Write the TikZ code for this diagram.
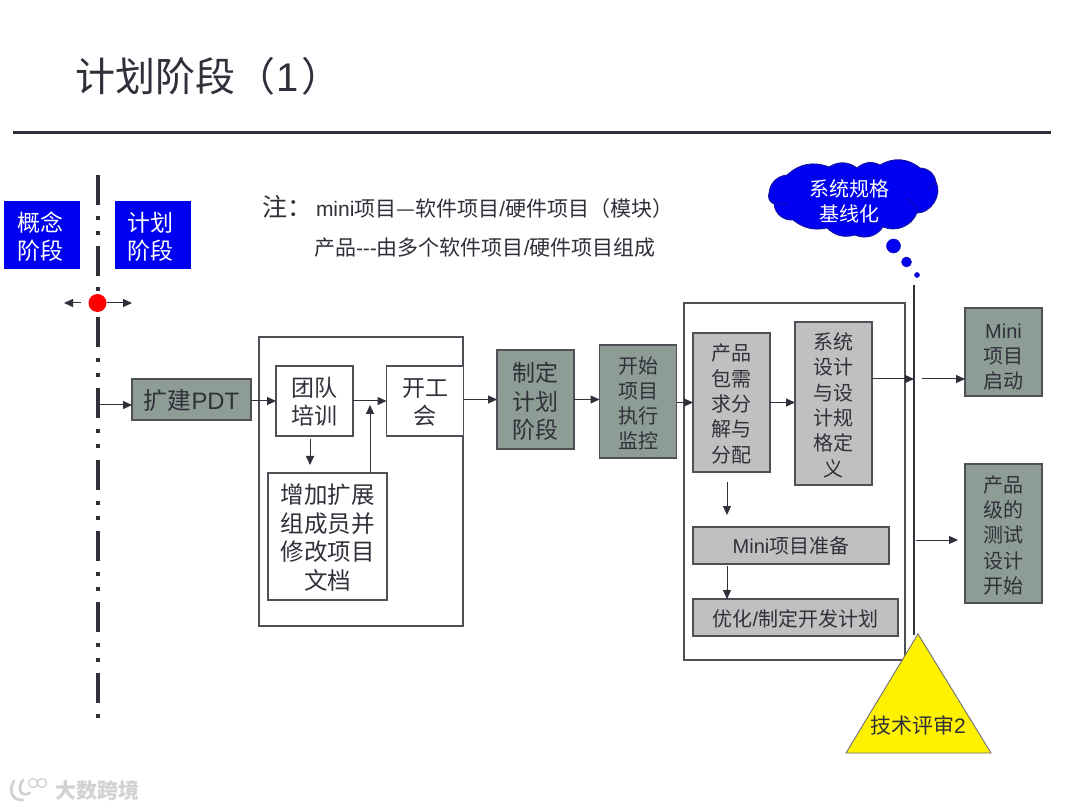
\documentclass[tikz,border=0pt]{standalone}
\usepackage{fontspec}
\setmainfont{Noto Sans CJK SC}
\newfontfamily\latfont{Liberation Sans}
\newcommand{\lat}[1]{{\latfont #1}}
\newcommand{\fs}[2]{\fontsize{#1pt}{#2pt}\selectfont}
\newcommand{\nd}[1]{\rule{0pt}{\dimexpr.88em+#1pt*2\relax}}
\usetikzlibrary{arrows.meta,calc}
\definecolor{ink}{HTML}{30303A}
\definecolor{sage}{HTML}{8D9C94}
\definecolor{silver}{HTML}{C0C0C0}
\definecolor{pure}{HTML}{0000F0}
\definecolor{wm}{HTML}{D2D2D2}
\tikzset{
  every node/.style={inner sep=0pt,outer sep=0pt,align=center,text=ink},
  box/.style={draw=ink!85,line width=1.1pt,minimum width=#1},
  boxh/.style={minimum height=#1},
  sagebox/.style={box=77pt,fill=sage,line width=1.3pt},
  greybox/.style={box=77pt,fill=silver,line width=1.3pt},
  whitebox/.style={box=77pt,fill=white},
  bluebox/.style={fill=pure,minimum width=76pt,minimum height=68pt,text=white,font=\fs{23}{28}},
  link/.style={draw=ink,line width=1pt,-{Triangle[length=9pt,width=8pt]}},
  plain/.style={draw=ink,line width=1.1pt},
}
\begin{document}
\begin{tikzpicture}[x=1pt,y=-1pt]
\useasboundingbox (0,0) rectangle (1080,810);
\fill[white] (0,0) rectangle (1080,810);
% title
\node[anchor=west,font=\fs{40}{46}] (title) at (75,76) {计划阶段（\kern2pt\lat{1}\kern2pt）};
\coordinate (ruleL) at (13,132.5);
\coordinate (ruleR) at (1051,132.5);
\draw[ink,line width=2.8pt] (ruleL) -- (ruleR);
% phase axis
\coordinate (axisTop) at (98,175);
\coordinate (axisBot) at (98,719);
\draw[ink,line width=3.6pt,dash pattern=on 30pt off 11pt on 4pt off 11pt on 4pt off 11.14pt] (axisTop) -- (axisBot);
\node[bluebox] (concept) at (42,235) {\nd{1.5}概念\kern4pt\\阶段\kern4pt};
\node[bluebox] (plan) at (153,235) {\nd{1.5}计划\kern6pt\\阶段\kern6pt};
\node[circle,fill=red,minimum size=18pt] (dot) at (97.5,303) {};
\coordinate (dotL) at (81,303);
\coordinate (dotLe) at (64,303);
\coordinate (dotRe) at (132,303);
\draw[link] (dotL) -- (dotLe);
\draw[link] (dot.east) -- (dotRe);
% notes
\node[anchor=west,font=\fs{25}{28}] (noteA) at (262,207) {注：};
\node[anchor=west,font=\fs{21}{24}] (noteB) at (316,209) {\lat{mini}项目—软件项目\lat{/}硬件项目（模块）};
\node[anchor=west,font=\fs{21}{24}] (noteC) at (314,248) {产品\lat{---}由多个软件项目\lat{/}硬件项目组成};
% group boxes
\draw[ink!85,line width=1.3pt,fill=white] (259,337) rectangle (463,626);
\draw[ink!85,line width=1.3pt,fill=white] (684,303) rectangle (905,660);
% nodes left
\node[sagebox,box=119pt,boxh=41pt,font=\fs{23.8}{28}] (pdt) at (191.5,399.5) {\nd{1}扩建\lat{PDT}};
\node[whitebox,boxh=70pt,font=\fs{23}{28}] (team) at (314.5,401) {\nd{0.5}团队\\培训};
\node[whitebox,boxh=70pt,font=\fs{23}{28}] (kick) at (425,401) {\nd{0.5}开工\\会};
\node[whitebox,box=119pt,boxh=127pt,font=\fs{23.5}{28.6}] (extend) at (327.5,536.5) {\nd{0.5}增加扩展\\组成员并\\修改项目\\文档};
\node[sagebox,boxh=99pt,font=\fs{23}{28.5}] (make) at (535.5,399.5) {\nd{1.5}制定\\计划\\阶段};
\node[sagebox,boxh=113pt,font=\fs{20}{25}] (monitor) at (638,401.5) {\nd{1}开始\\项目\\执行\\监控};
% inner right
\node[greybox,boxh=139pt,font=\fs{20}{25.4}] (req) at (731.5,402.5) {\nd{1}产品\\包需\\求分\\解与\\分配};
\node[greybox,boxh=163pt,font=\fs{20}{25.4}] (sys) at (833.5,403.5) {\nd{1.2}系统\\设计\\与设\\计规\\格定\\义};
\node[greybox,box=196pt,boxh=37pt,font=\fs{20}{24}] (mini) at (791,545.5) {\lat{Mini}项目准备};
\node[greybox,box=205pt,boxh=37pt,font=\fs{20}{24}] (opt) at (795.5,617.5) {\nd{1}优化\lat{/}制定开发计划};
% gate line
\coordinate (gateTop) at (914,285);
\coordinate (gateBot) at (914,635);
\draw[plain] (gateTop) -- (gateBot);
% outcomes
\node[sagebox,boxh=88pt,font=\fs{20}{25}] (start) at (1003.5,352) {\nd{3.5}\lat{Mini}\\项目\\启动};
\node[sagebox,boxh=139pt,font=\fs{20}{25.4}] (test) at (1003.5,533.5) {\nd{1.5}产品\\级的\\测试\\设计\\开始};
% triangle
\coordinate (triTop) at (918,634);
\coordinate (triL) at (846,753);
\coordinate (triR) at (991,753);
\draw[ink!70,line width=.9pt,fill=yellow] (triTop) -- (triR) -- (triL) -- cycle;
\node[font=\fs{21}{24}] (review) at (918,725) {技术评审\lat{2}};
% cloud
\coordinate (c1) at (769,193);
\draw[ink!50!pure,line width=.8pt,fill=pure]
  (c1) to[bend left=40] (787,175)
  to[bend left=32] (829,167)
  to[bend left=35] (857,168)
  to[bend left=35] (880,165)
  to[bend left=35] (920,168)
  to[bend left=40] (936,182)
  to[bend left=60] (917,213)
  to[bend left=45] (883,227)
  to[bend left=40] (855,235)
  to[bend left=30] (827,228)
  to[bend left=25] (793,220)
  to[bend left=45] (774,204)
  to[bend left=45] cycle;
\draw[ink!40!pure,line width=.7pt]
  (774,204) to[bend left=12] (789,205)
  (905,198) to[bend left=30] (917,213)
  (929,189) to[bend left=25] (936,182);
\node[text=white,font=\fs{20}{25}] (cloudtext) at (849,201) {系统规格\\基线化};
\node[circle,fill=pure,draw=ink!30!pure,line width=.5pt,minimum size=14pt] (b1) at (893.5,246) {};
\node[circle,fill=pure,draw=ink!30!pure,line width=.5pt,minimum size=10pt] (b2) at (906.5,262) {};
\node[circle,fill=pure,draw=ink!30!pure,line width=.5pt,minimum size=5pt] (b3) at (917,275) {};
% connectors
\coordinate (axisA) at (98,405);
\draw[link] (axisA) -- (pdt.west |- axisA);
\draw[link] (pdt.east |- team.west) -- (team.west);
\draw[link] (team.east) -- (kick.west);
\coordinate (upEnd) at (370,405);
\draw[link] (extend.north -| upEnd) -- (upEnd);
\coordinate (dnA) at (310,439);
\coordinate (dnB) at (310,465);
\draw[link] (dnA) -- (dnB);
\draw[link] (kick.east |- make.west) -- (make.west);
\draw[link] (make.east) -- (monitor.west |- make.east);
\draw[link] (monitor.east |- req.west) -- (req.west);
\draw[link] (req.east) -- (sys.west |- req.east);
\coordinate (sysY) at (872,379);
\draw[link] (sysY) -- (gateTop |- sysY);
\coordinate (outA) at (922,379);
\draw[link] (outA) -- (start.west |- outA);
\coordinate (outB) at (916,540);
\coordinate (outBe) at (958,540);
\draw[link] (outB) -- (outBe);
\coordinate (rdA) at (727,482);
\coordinate (rdB) at (727,515);
\draw[link] (rdA) -- (rdB);
\coordinate (rmA) at (727,566);
\draw[link] (rmA) -- (opt.north -| rmA);
% watermark
\draw[wm,line width=2.8pt,line cap=round] (14,781) .. controls (8,790) and (12,801) .. (23,800);
\draw[wm,line width=2.8pt,line cap=round] (23,780) .. controls (17,788) and (20,798) .. (30,793);
\draw[wm,line width=1.3pt] (33,783) circle[radius=4.5pt] (42,783) circle[radius=4.5pt];
\node[text=wm,font=\fs{21}{24}\bfseries] (mark) at (97.5,790) {大数跨境};
\end{tikzpicture}
\end{document}
